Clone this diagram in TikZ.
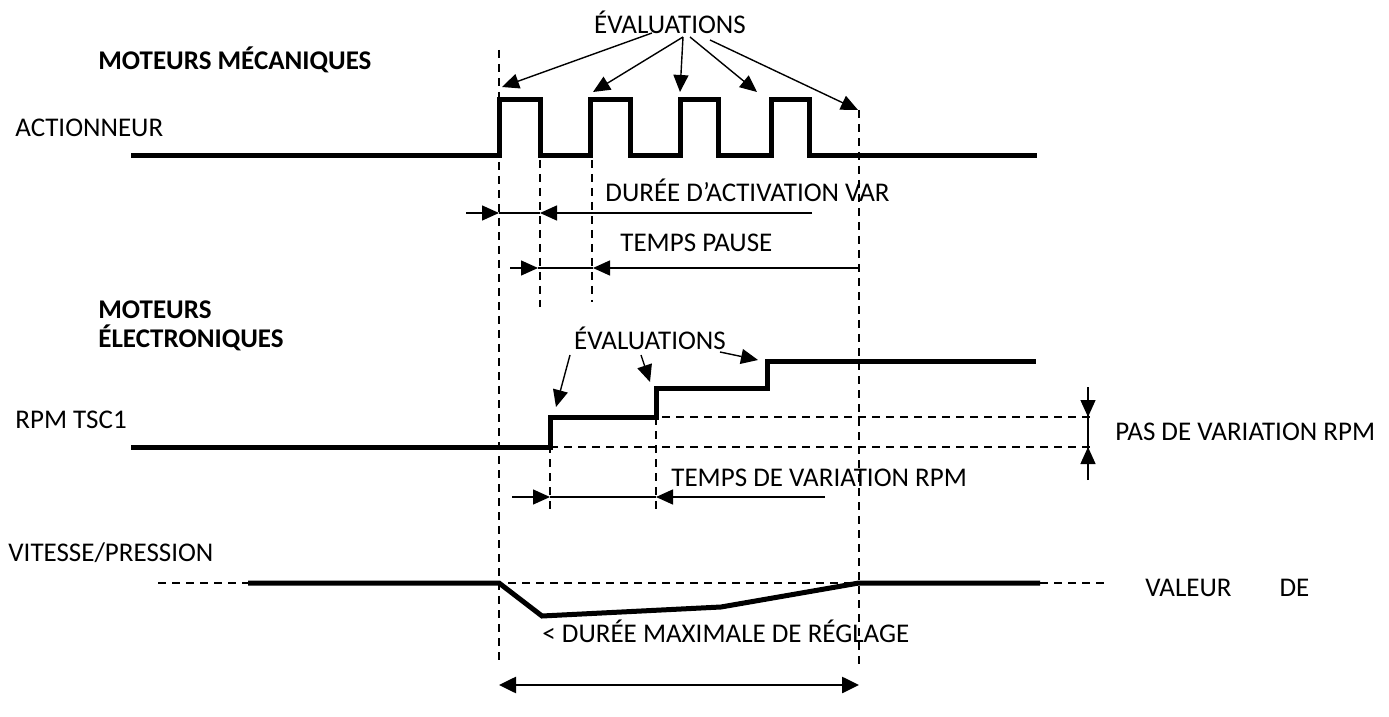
\documentclass[tikz,border=0pt]{standalone}
\usepackage{fontspec}
\setmainfont{Carlito}
\usetikzlibrary{arrows.meta}

\begin{document}
\begin{tikzpicture}[x=0.5pt, y=-0.5pt,
  every node/.style={font=\fontsize{13.5}{15}\selectfont, inner sep=0pt},
  lbl/.style={anchor=west},
  head/.style={anchor=west, font=\fontsize{13.5}{15}\selectfont\bfseries},
  signal/.style={line width=2.5pt, line join=miter},
  guide/.style={line width=0.7pt, dash pattern=on 4pt off 3pt},
  ptr/.style={line width=0.7pt, -{Triangle[length=8.5pt,width=7.5pt]}},
  dim/.style={line width=0.7pt}]
  \useasboundingbox (0,0) rectangle (1389,717);

  % labels
  \node[head] (mech)  at (98,60)   {MOTEURS MÉCANIQUES};
  \node[lbl]  (act)   at (15,128)  {ACTIONNEUR};
  \node       (eval1) at (670,22)  {ÉVALUATIONS};
  \node[lbl]  (var)   at (605,190) {DURÉE D’ACTIVATION VAR};
  \node[lbl]  (pause) at (620,243) {TEMPS PAUSE};
  \node[head] (elec1) at (98,310)  {MOTEURS};
  \node[head] (elec2) at (98,338)  {ÉLECTRONIQUES};
  \node[lbl]  (rpm)   at (15,420)  {RPM TSC1};
  \node       (eval2) at (650,338) {ÉVALUATIONS};
  \node[lbl]  (pas)   at (1115,432) {PAS DE VARIATION RPM};
  \node[lbl]  (tvar)  at (671,478) {TEMPS DE VARIATION RPM};
  \node[lbl]  (vit)   at (8,553)   {VITESSE/PRESSION};
  \node[lbl]  (val)   at (1145,588) {VALEUR\hspace{24pt}DE};
  \node[lbl]  (dmax)  at (542,631) {< DURÉE MAXIMALE DE RÉGLAGE};

  % dashed guides
  \draw[guide] (499,50) -- (499,665);
  \draw[guide] (540,160) -- (540,307);
  \draw[guide] (592,160) -- (592,302);
  \draw[guide] (859,110) -- (859,665);
  \draw[guide] (550,417) -- (550,512);
  \draw[guide] (656,417) -- (656,512);
  \draw[guide] (550,417) -- (1093,417);
  \draw[guide] (550,447) -- (1093,447);
  \draw[guide] (158,583) -- (1108,583);

  % actuator pulses
  \draw[signal] (131,156)
    \foreach \a/\b in {499/540, 590/630, 680/718, 771/809} {
      -- (\a,156) -- (\a,100) -- (\b,100) -- (\b,156)
    } -- (1037,156);

  % rpm steps
  \draw[signal] (131,447) -- (550,447) -- (550,417) -- (656,417)
    -- (656,388) -- (767,388) -- (767,361) -- (1036,361);

  % speed / pressure
  \draw[signal] (248,583) -- (499,583) -- (542,616) -- (721,607)
    -- (859,583) -- (1040,583);

  % evaluation pointers
  \coordinate (p1) at (502,87);
  \coordinate (p2) at (593,92);
  \coordinate (p3) at (680,92);
  \coordinate (p4) at (757,92);
  \coordinate (p5) at (858,110);
  \draw[ptr] (652,33) -- (p1);
  \draw[ptr] (683,37) -- (p2);
  \draw[ptr] (683,37) -- (p3);
  \draw[ptr] (690,37) -- (p4);
  \draw[ptr] (710,40) -- (p5);

  \coordinate (q1) at (556,407);
  \coordinate (q2) at (650,382);
  \coordinate (q3) at (758,360);
  \draw[ptr] (570,355) -- (q1);
  \draw[ptr] (641,355) -- (q2);
  \draw[ptr] (720,352) -- (q3);

  % activation time
  \coordinate (a0) at (466,213);
  \coordinate (a1) at (499,213);
  \coordinate (a2) at (540,213);
  \coordinate (a3) at (812,213);
  \draw[ptr] (a0) -- (a1);
  \draw[dim] (a1) -- (a2);
  \draw[ptr] (a3) -- (a2);

  % pause time
  \coordinate (b0) at (510,268);
  \coordinate (b1) at (538,268);
  \coordinate (b2) at (593,268);
  \coordinate (b3) at (859,268);
  \draw[ptr] (b0) -- (b1);
  \draw[dim] (b1) -- (b2);
  \draw[ptr] (b3) -- (b2);

  % rpm variation time
  \coordinate (c0) at (512,497);
  \coordinate (c1) at (550,497);
  \coordinate (c2) at (656,497);
  \coordinate (c3) at (825,497);
  \draw[ptr] (c0) -- (c1);
  \draw[dim] (c1) -- (c2);
  \draw[ptr] (c3) -- (c2);

  % rpm step
  \coordinate (s0) at (1088,387);
  \coordinate (s1) at (1088,417);
  \coordinate (s2) at (1088,447);
  \coordinate (s3) at (1088,480);
  \draw[dim] (s0) -- (s3);
  \draw[ptr] (s0) -- (s1);
  \draw[ptr] (s3) -- (s2);

  % max settling time
  \coordinate (m0) at (499,685);
  \coordinate (m1) at (859,685);
  \draw[line width=1.3pt, {Triangle[length=8.5pt,width=8pt]}-{Triangle[length=8.5pt,width=8pt]}] (m0) -- (m1);
\end{tikzpicture}
\end{document}
